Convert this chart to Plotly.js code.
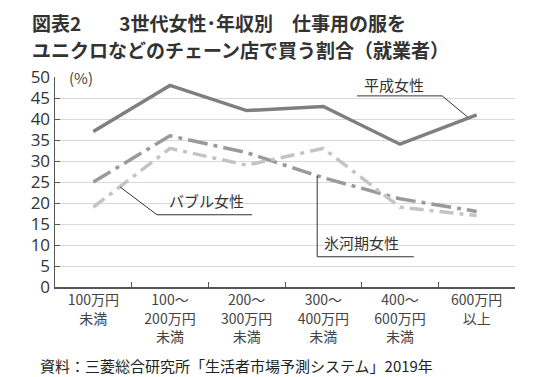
<!DOCTYPE html>
<html><head><meta charset="utf-8">
<script src="https://cdn.plot.ly/plotly-3.0.1.min.js"></script>
<style>body{margin:0;background:#fff}#c{width:535px;height:377px}</style>
</head><body><div id="c"></div>
<script>
const categories = ["100万円<br>未満","100～<br>200万円<br>未満","200～<br>300万円<br>未満","300～<br>400万円<br>未満","400～<br>600万円<br>未満","600万円<br>以上"];
const heisei = [37, 48, 42, 43, 34, 41];
const hyogaki = [25, 36, 32, 26, 21, 18];
const bubble = [19, 33, 29, 33, 19, 17];
const seriesNames = ["平成女性","氷河期女性","バブル女性"];

const font = "'Noto Sans CJK JP', 'Noto Sans', sans-serif";
const traces = [
  {x: categories, y: heisei, name: seriesNames[0], mode: "lines", line: {color: "#7f7f7f", width: 3.5}},
  {x: categories, y: hyogaki, name: seriesNames[1], mode: "lines", line: {color: "#9a9a9a", width: 3.5, dash: "20px,6px,4px,6px"}},
  {x: categories, y: bubble, name: seriesNames[2], mode: "lines", line: {color: "#c4c4c4", width: 3.5, dash: "14px,6px,4px,6px"}}
];
const lineStyle = {color: "#333", width: 1};
const layout = {
  width: 535, height: 377,
  margin: {l: 55, r: 20, t: 77, b: 90},
  paper_bgcolor: "#fff", plot_bgcolor: "#fff",
  showlegend: false,
  font: {family: font, color: "#333"},
  xaxis: {type: "category", range: [-0.5, 5.5], showgrid: false, showline: true, linecolor: "#555", linewidth: 1.5,
    ticks: "inside", ticklen: 5, tickcolor: "#555", tickson: "boundaries",
    tickfont: {size: 14, color: "#444", family: font}, fixedrange: true},
  yaxis: {range: [0, 50], dtick: 5, showgrid: true, gridcolor: "#d9d9d9", gridwidth: 1, showline: true, linecolor: "#555", linewidth: 1.5,
    ticks: "inside", ticklen: 5, tickcolor: "#555", zeroline: false,
    tickfont: {size: 17, color: "#333", family: "'Open Sans', 'Noto Sans', sans-serif"}, fixedrange: true},
  annotations: [
    {text: "<b>図表2　　3世代女性･年収別　仕事用の服を</b>", xref: "paper", yref: "paper", x: -0.054, y: 1.0, yshift: 55, xanchor: "left", yanchor: "middle", showarrow: false, font: {size: 19, color: "#333", family: font}},
    {text: "<b>ユニクロなどのチェーン店で買う割合（就業者）</b>", xref: "paper", yref: "paper", x: -0.054, y: 1.0, yshift: 28, xanchor: "left", yanchor: "middle", showarrow: false, font: {size: 19, color: "#333", family: font}},
    {text: "(%)", xref: "paper", yref: "paper", x: 0.025, y: 1.0, xanchor: "left", yanchor: "middle", showarrow: false, font: {size: 15, color: "#444", family: font}},
    {text: seriesNames[0], xref: "x", yref: "y", x: 3.92, y: 48.3, xanchor: "center", yanchor: "middle", showarrow: false, font: {size: 15, color: "#333", family: font}},
    {text: seriesNames[1], xref: "x", yref: "y", x: 3.5, y: 10.5, xanchor: "center", yanchor: "middle", showarrow: false, font: {size: 15, color: "#333", family: font}},
    {text: seriesNames[2], xref: "x", yref: "y", x: 1.47, y: 20.5, xanchor: "center", yanchor: "middle", showarrow: false, font: {size: 15, color: "#333", family: font}},
    {text: "資料：三菱総合研究所「生活者市場予測システム」2019年", xref: "paper", yref: "paper", x: -0.037, y: 0, yshift: -78, xanchor: "left", yanchor: "middle", showarrow: false, font: {size: 15, color: "#222", family: font}}
  ],
  shapes: [
    {type: "line", xref: "x", yref: "y", x0: 3.44, x1: 4.55, y0: 45.5, y1: 45.5, line: lineStyle},
    {type: "line", xref: "x", yref: "y", x0: 4.55, x1: 4.88, y0: 45.5, y1: 40.5, line: lineStyle},
    {type: "line", xref: "x", yref: "y", x0: 2.92, x1: 4.18, y0: 7.2, y1: 7.2, line: lineStyle},
    {type: "line", xref: "x", yref: "y", x0: 2.92, x1: 2.92, y0: 7.2, y1: 26.5, line: lineStyle},
    {type: "line", xref: "x", yref: "y", x0: 0.83, x1: 2.07, y0: 17.2, y1: 17.2, line: lineStyle},
    {type: "line", xref: "x", yref: "y", x0: 0.83, x1: 0.35, y0: 17.2, y1: 23.8, line: lineStyle}
  ]
};
Plotly.newPlot("c", traces, layout, {staticPlot: true});
</script></body></html>
